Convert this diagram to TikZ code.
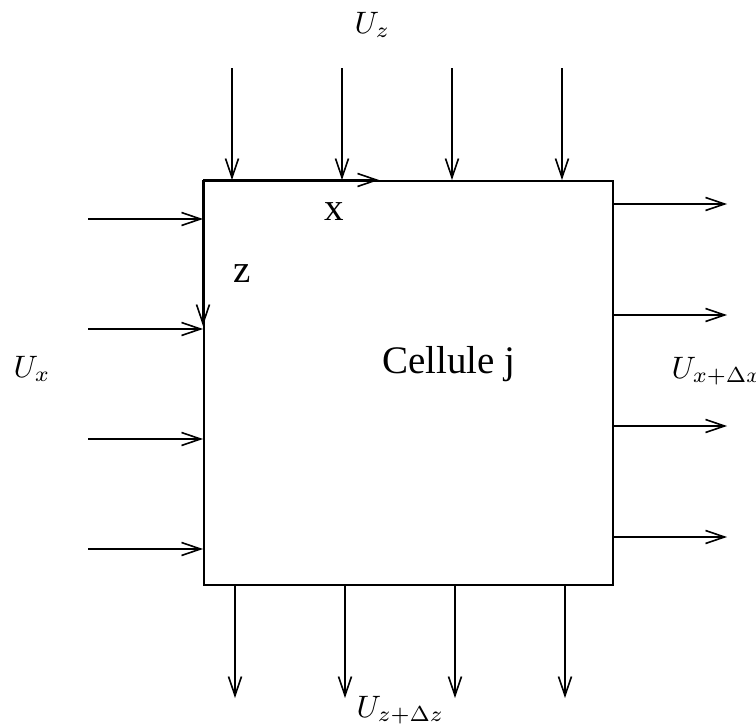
\documentclass[tikz,border=0pt]{standalone}
\usepackage{fontspec}
\setmainfont{Liberation Serif}
\usetikzlibrary{arrows.meta}
\begin{document}
\begin{tikzpicture}[x=1pt,y=-1pt,
  flow/.style={-{Straight Barb[length=19pt,width=13pt,line width=1.6pt]}, line width=1.6pt},
  lbl/.style={inner sep=0pt, font=\fontsize{10}{12}\selectfont, scale=3.1, transform shape},
  celltext/.style={inner sep=0pt, font=\fontsize{39}{44}\selectfont}]
\useasboundingbox (0,0) rectangle (756,728);
\node[draw, line width=1.6pt, minimum width=409pt, minimum height=404pt, anchor=north west, inner sep=0pt] (cell) at (203,180) {};
% axes
\coordinate (o) at (203,180);
\coordinate (xend) at (379,180);
\coordinate (zend) at (203,326);
\draw[flow] (o) -- (xend);
\draw[flow] (o) -- (zend);
\node[celltext, anchor=base] (xl) at (334,220) {x};
\node[celltext, anchor=base] (zl) at (242,282) {z};
% top
\foreach \i/\x in {1/232,2/342,3/452,4/562}{
  \coordinate (ts\i) at (\x,68);
  \coordinate (te\i) at (\x,180);
  \draw[flow] (ts\i) -- (te\i);
}
% bottom
\foreach \i/\x in {1/235,2/345,3/455,4/565}{
  \coordinate (bs\i) at (\x,584);
  \coordinate (be\i) at (\x,698);
  \draw[flow] (bs\i) -- (be\i);
}
% left
\foreach \i/\y in {1/219,2/329,3/439,4/549}{
  \coordinate (ls\i) at (88,\y);
  \coordinate (le\i) at (203,\y);
  \draw[flow] (ls\i) -- (le\i);
}
% right
\foreach \i/\y in {1/204,2/315,3/426,4/537}{
  \coordinate (rs\i) at (612,\y);
  \coordinate (re\i) at (727,\y);
  \draw[flow] (rs\i) -- (re\i);
}
\node[lbl, anchor=base west] (uz) at (354,33) {$U_z$};
\node[lbl, anchor=base west] (ux) at (13,377) {$U_x$};
\node[lbl, anchor=base west] (uxdx) at (671,378) {$U_{x+\Delta x}$};
\node[lbl, anchor=base west] (uzdz) at (356,717) {$U_{z+\Delta z}$};
\node[celltext, anchor=base west] (cj) at (382,373) {Cellule j};
\end{tikzpicture}
\end{document}
